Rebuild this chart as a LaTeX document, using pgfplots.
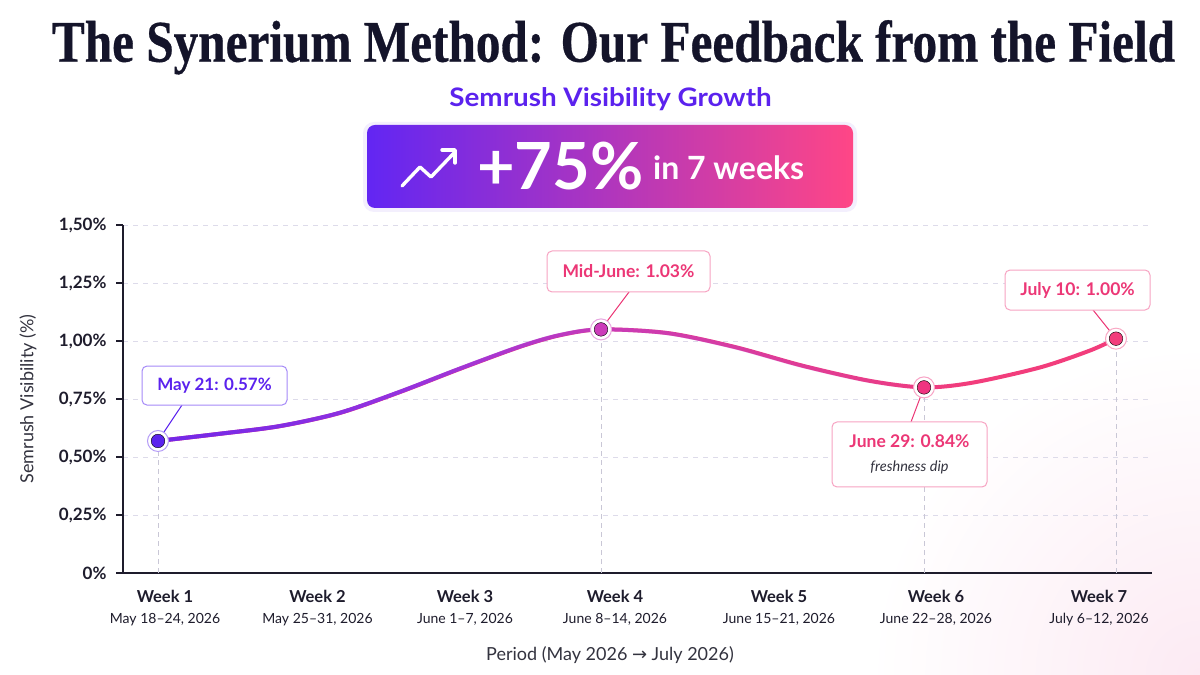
\documentclass[border=0pt]{standalone}
\usepackage{pgfplots}
\pgfplotsset{compat=1.18}
\usepackage{pgfplotstable}
\usepackage{fontspec}
\usepackage{graphicx}
\usetikzlibrary{fadings}
\setmainfont{Lato}
\newfontfamily\titlefont[FakeBold=0.6]{Liberation Serif Bold}
\newfontfamily\arrowfont{DejaVu Sans}

\definecolor{violet1}{HTML}{5B22EE}
\definecolor{magL}{HTML}{B23BD8}
\definecolor{pinkA}{HTML}{F23D7C}
\definecolor{magA}{HTML}{CC3BBA}
\definecolor{pinkB}{HTML}{EF3480}
\definecolor{axisdark}{HTML}{1E1C2C}
\definecolor{gridc}{HTML}{DDDBEA}
\definecolor{dropc}{HTML}{C9C7D6}
\definecolor{textdark}{HTML}{1E1C2C}
\definecolor{labelgray}{HTML}{33333F}
\definecolor{bannerL}{HTML}{6226F3}
\definecolor{bannerR}{HTML}{FF4686}
\definecolor{calloutPink}{HTML}{EC3776}
\definecolor{borderPink}{HTML}{F7A3C2}
\definecolor{borderViolet}{HTML}{A58AF8}
\definecolor{titlec}{HTML}{14142A}

% violet layer: opaque until x~320, transparent from x~620
\begin{tikzfadingfrompicture}[name=fadeViolet]
\fill[white] (-50bp,-50bp) rectangle (-32.95bp,50bp);
\shade[left color=white, right color=black] (-32.95bp,-50bp) rectangle (-1.77bp,50bp);
\fill[black] (-1.77bp,-50bp) rectangle (50bp,50bp);
\end{tikzfadingfrompicture}
% magenta layer: opaque until x~520, transparent from x~800
\begin{tikzfadingfrompicture}[name=fadeMag]
\fill[white] (-50bp,-50bp) rectangle (-12.16bp,50bp);
\shade[left color=white, right color=black] (-12.16bp,-50bp) rectangle (16.9bp,50bp);
\fill[black] (16.9bp,-50bp) rectangle (50bp,50bp);
\end{tikzfadingfrompicture}

\pgfplotstableread{
x y
158 0.569
220 0.600
280 0.633
340 0.690
400 0.780
460 0.880
520 0.975
560 1.025
601 1.050
668 1.034
735 0.974
803 0.893
870 0.828
924 0.800
972 0.820
1040 0.886
1090 0.959
1116 1.010
}\curve

\begin{document}
\begin{tikzpicture}[x=1pt,y=1pt]
\useasboundingbox (0,0) rectangle (1200,675);
\fill[white] (0,0) rectangle (1200,675);
\shade[inner color={rgb,255:red,252;green,234;blue,243}, outer color=white] (1200,0) circle (330);

% title
\node[anchor=base, inner sep=0, text=titlec] at (613.5,613.3)
  {\resizebox{1123pt}{\height}{\titlefont\fontsize{59}{66}\selectfont The Synerium Method: Our Feedback from the Field}};

% subtitle
\node[anchor=base, inner sep=0, text=violet1] at (610.5,568)
  {\scalebox{1.09}[1]{\fontsize{25.5}{30}\selectfont\bfseries Semrush Visibility Growth}};

% banner
\fill[violet1, opacity=0.07, rounded corners=11] (363,463) rectangle (857,553);
\shade[left color=bannerL, right color=bannerR, rounded corners=8] (367,467) rectangle (853,550);
\draw[white, line width=3.4, line cap=round, line join=round]
  (402,489) -- (420,508) -- (431,498) -- (454,522);
\draw[white, line width=3.4, line cap=round, line join=round]
  (442,525) -- (455,525) -- (455,512);
\node[anchor=base west, inner sep=0, text=white] at (477,485)
  {\fontsize{65}{70}\selectfont\bfseries +75\%};
\node[anchor=base west, inner sep=0, text=white] at (653,495)
  {\fontsize{32}{36}\selectfont\bfseries in 7 weeks};

\begin{axis}[
  at={(123pt,102pt)}, anchor=south west,
  scale only axis, width=1029pt, height=348pt,
  xmin=123, xmax=1152, ymin=0, ymax=1.5,
  axis lines=left,
  axis line style={-, line width=1.6pt, color=axisdark},
  clip=false,
  ytick={0,0.25,0.5,0.75,1,1.25,1.5},
  yticklabels={0\%,{0,25\%},{0,50\%},{0,75\%},{1,00\%},{1,25\%},{1,50\%}},
  yticklabel style={font=\fontsize{17}{20}\selectfont\bfseries, text=textdark, xshift=-6pt},
  tick align=outside, major tick length=7pt,
  ytick style={line width=1.2pt, color=axisdark},
  xtick={165,317.5,465,615,779,936,1099},
  xticklabels={
    {{\fontsize{16.5}{18}\selectfont\bfseries Week 1}\\[9pt]{\fontsize{14}{16}\selectfont May 18–24, 2026}},
    {{\fontsize{16.5}{18}\selectfont\bfseries Week 2}\\[9pt]{\fontsize{14}{16}\selectfont May 25–31, 2026}},
    {{\fontsize{16.5}{18}\selectfont\bfseries Week 3}\\[9pt]{\fontsize{14}{16}\selectfont June 1–7, 2026}},
    {{\fontsize{16.5}{18}\selectfont\bfseries Week 4}\\[9pt]{\fontsize{14}{16}\selectfont June 8–14, 2026}},
    {{\fontsize{16.5}{18}\selectfont\bfseries Week 5}\\[9pt]{\fontsize{14}{16}\selectfont June 15–21, 2026}},
    {{\fontsize{16.5}{18}\selectfont\bfseries Week 6}\\[9pt]{\fontsize{14}{16}\selectfont June 22–28, 2026}},
    {{\fontsize{16.5}{18}\selectfont\bfseries Week 7}\\[9pt]{\fontsize{14}{16}\selectfont July 6–12, 2026}}},
  xtick style={draw=none},
  xticklabel style={align=center, text=textdark, yshift=-7pt},
  ymajorgrids,
  grid style={dash pattern=on 5pt off 5pt, color=gridc, line width=0.9pt},
  ylabel={Semrush Visibility (\%)},
  ylabel style={at={(axis description cs:-0.0923,0.5)}, anchor=center, font=\fontsize{18}{20}\selectfont, text=labelgray},
  xlabel={Period (May 2026 {\arrowfont →} July 2026)},
  xlabel style={at={(axis description cs:0.4733,-0.2356)}, anchor=center, font=\fontsize{18}{20}\selectfont, text=labelgray},
]
% drop lines
\addplot[ycomb, dash pattern=on 5pt off 4pt, color=dropc, line width=1pt, mark=none]
  coordinates {(158,0.569) (601,1.050) (924,0.800) (1116,1.010)};
% gradient curve: pink base, magenta and violet layers faded to the right
\addplot[smooth, line width=4pt, color=pinkA, mark=none] table[x=x,y=y] {\curve};
\addplot[smooth, line width=4pt, color=magL, mark=none, path fading=fadeMag, fit fading=true] table[x=x,y=y] {\curve};
\addplot[smooth, line width=4pt, color=violet1, mark=none, path fading=fadeViolet, fit fading=true] table[x=x,y=y] {\curve};

% leaders
\draw[violet1, line width=1pt] (axis cs:182,0.724) -- (axis cs:158,0.569);
\draw[calloutPink, line width=1pt] (axis cs:629,1.211) -- (axis cs:601,1.050);
\draw[calloutPink, line width=1pt] (axis cs:924,0.800) -- (axis cs:911,0.651);
\draw[calloutPink, line width=1pt] (axis cs:1093,1.134) -- (axis cs:1116,1.010);

% callouts
\node[draw=borderViolet, fill=white, rounded corners=5pt, line width=1pt, minimum width=145pt, minimum height=39pt, text=violet1, font=\fontsize{17}{20}\selectfont\bfseries] at (axis cs:214.5,0.808) {May 21: 0.57\%};
\node[draw=borderPink, fill=white, rounded corners=5pt, line width=1pt, minimum width=163pt, minimum height=41pt, text=calloutPink, font=\fontsize{17.5}{20}\selectfont\bfseries] at (axis cs:628.5,1.2996) {Mid-June: 1.03\%};
\node[draw=borderPink, fill=white, rounded corners=5pt, line width=1pt, minimum width=155pt, minimum height=65pt, text=calloutPink, align=center, font=\fontsize{17.5}{20}\selectfont\bfseries] at (axis cs:909.5,0.5108) {June 29: 0.84\%\\[4pt]{\normalfont\itshape\fontsize{14.5}{16}\selectfont\color{labelgray} freshness dip}};
\node[draw=borderPink, fill=white, rounded corners=5pt, line width=1pt, minimum width=145pt, minimum height=40pt, text=calloutPink, font=\fontsize{17.5}{20}\selectfont\bfseries] at (axis cs:1077.5,1.2198) {July 10: 1.00\%};

% markers
\addplot[only marks, mark=*, mark size=10.5pt, mark options={fill=white, draw=violet1!45, line width=1pt}] coordinates {(158,0.569)};
\addplot[only marks, mark=*, mark size=6.8pt, mark options={fill=violet1, draw=none}] coordinates {(158,0.569)};
\addplot[only marks, mark=*, mark size=10.5pt, mark options={fill=white, draw=magA!45, line width=1pt}] coordinates {(601,1.050)};
\addplot[only marks, mark=*, mark size=6.8pt, mark options={fill=magA, draw=none}] coordinates {(601,1.050)};
\addplot[only marks, mark=*, mark size=10.5pt, mark options={fill=white, draw=pinkB!45, line width=1pt}] coordinates {(924,0.800)};
\addplot[only marks, mark=*, mark size=6.8pt, mark options={fill=pinkB, draw=none}] coordinates {(924,0.800)};
\addplot[only marks, mark=*, mark size=10.5pt, mark options={fill=white, draw=pinkA!45, line width=1pt}] coordinates {(1116,1.010)};
\addplot[only marks, mark=*, mark size=6.8pt, mark options={fill=pinkA, draw=none}] coordinates {(1116,1.010)};
\end{axis}
\end{tikzpicture}
\end{document}
